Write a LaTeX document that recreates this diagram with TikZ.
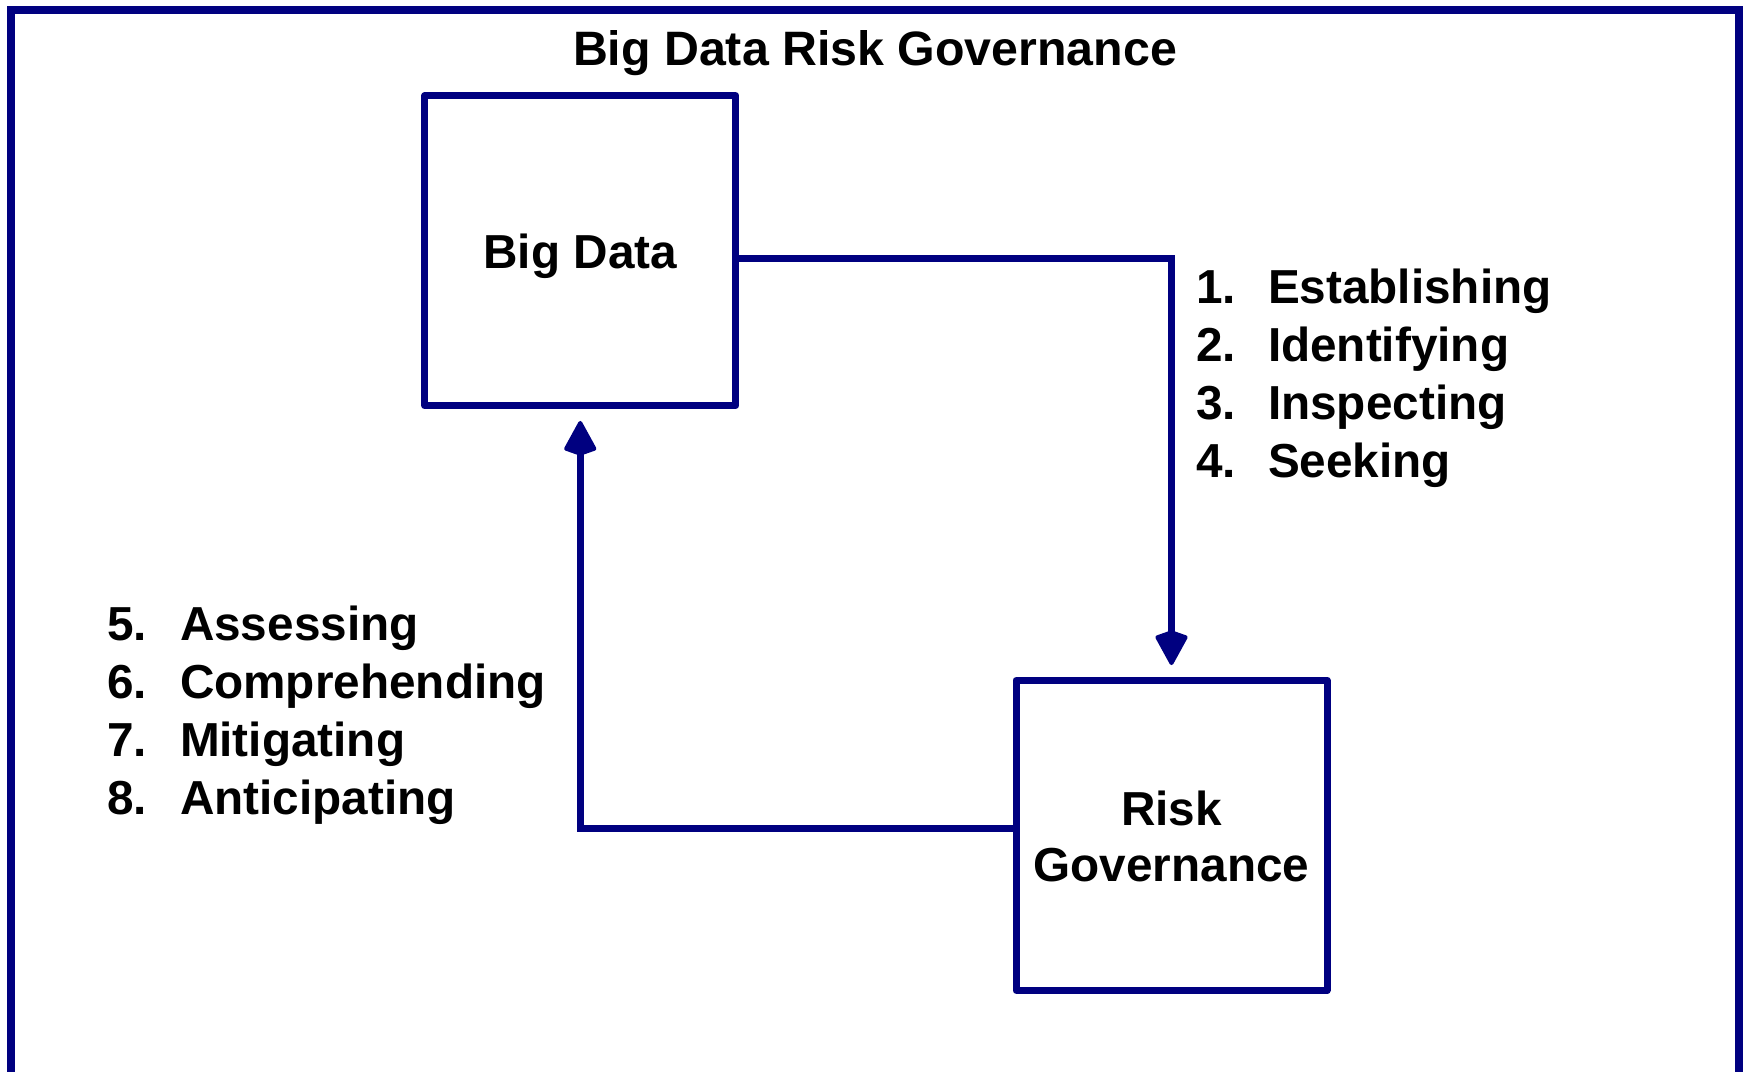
\documentclass[tikz,border=0pt]{standalone}
\usepackage{fontspec}
\setmainfont{Liberation Sans}
\usetikzlibrary{arrows.meta}
\definecolor{navy}{HTML}{000080}
\begin{document}
\begin{tikzpicture}[x=1pt,y=-1pt,
  box/.style={draw=navy, line width=7pt, line join=round, minimum width=311pt, minimum height=310pt, outer sep=0pt, inner sep=0pt},
  lbl/.style={font=\fontsize{47.7}{58}\selectfont\bfseries, inner sep=0pt, outer sep=0pt, text=black},
  link/.style={draw=navy, line width=7pt, -{Kite[length=37pt,width=34pt,inset=6pt,line width=4pt,line join=round]}}]
\useasboundingbox (0,0) rectangle (1743,1071);
\fill[white] (0,0) rectangle (1743,1071);
\draw[navy, line width=8pt] (11,1085) -- (11,10) -- (1739,10) -- (1739,1085);
\node[lbl, anchor=base, font=\fontsize{48.3}{58}\selectfont\bfseries] (title) at (875,65) {Big Data Risk Governance};
\node[box] (bd) at (580.25,250.65) {};
\node[box] (rg) at (1171.5,835.35) {};
\node[lbl, anchor=base] (bdt) at (580.25,268) {Big Data};
\node[lbl, anchor=base] (rgt1) at (1171.5,825) {Risk};
\node[lbl, anchor=base] (rgt2) at (1171.5,881) {Governance};
\draw[link] ([yshift=-7.4pt]bd.east) -| ([yshift=15.3pt]rg.north);
\draw[link] ([yshift=7pt]rg.west) -| ([yshift=-15.3pt]bd.south);
% right list
\node[lbl, anchor=base west] (n1) at (1196,303) {1.};
\node[lbl, anchor=base west] (t1) at (1268,303) {Establishing};
\node[lbl, anchor=base west] (n2) at (1196,361) {2.};
\node[lbl, anchor=base west] (t2) at (1268,361) {Identifying};
\node[lbl, anchor=base west] (n3) at (1196,419) {3.};
\node[lbl, anchor=base west] (t3) at (1268,419) {Inspecting};
\node[lbl, anchor=base west] (n4) at (1196,477) {4.};
\node[lbl, anchor=base west] (t4) at (1268,477) {Seeking};
% left list
\node[lbl, anchor=base west] (n5) at (107,640) {5.};
\node[lbl, anchor=base west] (t5) at (180,640) {Assessing};
\node[lbl, anchor=base west] (n6) at (107,698) {6.};
\node[lbl, anchor=base west] (t6) at (180,698) {Comprehending};
\node[lbl, anchor=base west] (n7) at (107,756) {7.};
\node[lbl, anchor=base west] (t7) at (180,756) {Mitigating};
\node[lbl, anchor=base west] (n8) at (107,814) {8.};
\node[lbl, anchor=base west] (t8) at (180,814) {Anticipating};
\end{tikzpicture}
\end{document}
